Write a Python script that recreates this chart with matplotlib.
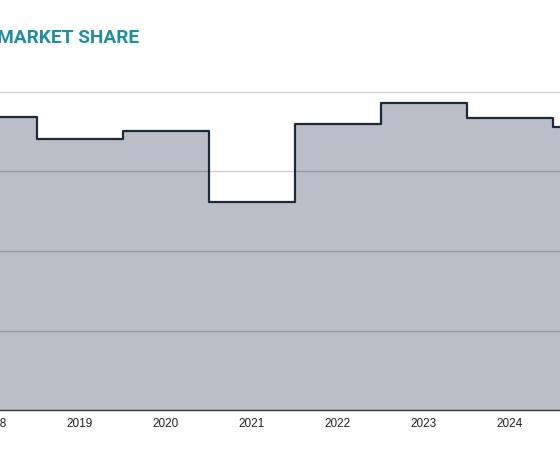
import numpy as np
import matplotlib.pyplot as plt

years = [2018, 2019, 2020, 2021, 2022, 2023, 2024, 2025]
share = [36.9, 34.1, 35.1, 26.2, 36.0, 38.6, 36.7, 35.6]
yticks = [0, 10, 20, 30, 40]
title = 'MARKET SHARE'

fig = plt.figure(figsize=(5.6, 4.53), dpi=100)
# axes stretch over the full width; x limits chosen so the chart is cropped on both sides
ax = fig.add_axes([0, 43 / 453, 1, 318 / 453])
ax.fill_between(years, share, 0, step='mid', color='#babec6', zorder=1, linewidth=0)
ax.plot(years, share, drawstyle='steps-mid', color='#1c2b3a', lw=1.6, zorder=3,
        solid_joinstyle='round')
ax.set_yticks(yticks)
ax.set_xticks([])
ax.set_xlim(2018 + 6 / 86, 2018 + 566 / 86)
ax.set_ylim(0, 40)
ax.tick_params(axis='y', length=0, labelleft=False)
# year labels as text so the partly hidden first one still shows
xtrans = ax.get_xaxis_transform()
for y in years:
    ax.text(y, -0.045, str(y), transform=xtrans, ha='center', va='center',
            fontsize=8.5, color='#222222', family='Liberation Sans', clip_on=False)
ax.grid(axis='y', color='black', alpha=0.2, lw=0.9, zorder=2)
ax.set_axisbelow(False)
for s in ['left', 'right', 'top']:
    ax.spines[s].set_visible(False)
ax.spines['bottom'].set_color('#333333')
ax.spines['bottom'].set_linewidth(1.0)
ax.spines['bottom'].set_zorder(4)

fig.text(-3 / 560, 1 - 43 / 453, title, fontsize=13.8, fontweight='bold',
         color='#1f8fa0', family='Roboto', va='baseline', ha='left')

fig.savefig('out.png', dpi=100)
